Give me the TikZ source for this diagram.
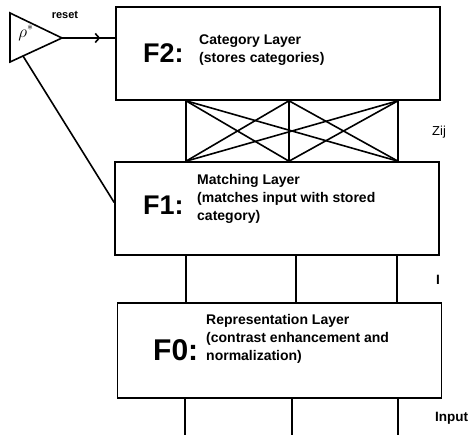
\documentclass[tikz,border=0pt]{standalone}
\usepackage{fontspec}
\setmainfont{Liberation Sans}
\usetikzlibrary{calc,positioning,arrows.meta,decorations.markings}

\tikzset{
  layer/.style={draw, line width=1.6pt, minimum width=324pt, minimum height=93pt, inner sep=0pt},
  tag/.style={font=\bfseries\fontsize{27}{27}\selectfont, inner sep=0pt, anchor=base west},
  desc/.style={font=\bfseries\fontsize{14}{18}\selectfont, align=left, inner sep=0pt, anchor=north west},
  side/.style={font=\bfseries\fontsize{13.5}{14}\selectfont, inner sep=0pt},
  wire/.style={line width=1.6pt}
}

\begin{document}
\begin{tikzpicture}[x=1pt, y=-1pt]
  \useasboundingbox (0,0) rectangle (469,435);

  % the three layers
  \node (f2) [layer] at (278,53.5) {};
  \node (f1) [layer] at (277,208.5) {};
  \node (f0) [layer, minimum height=95pt] at (279.5,350.5) {};

  \node (f2tag) [tag] at (143,63) {F2:};
  \node (f1tag) [tag] at (143,215) {F1:};
  \node (f0tag) [tag, font=\bfseries\fontsize{30}{30}\selectfont] at (153,361) {F0:};

  \node (f2txt) [desc] at (199,34.5) {Category Layer\\(stores categories)};
  \node (f1txt) [desc] at (197,174.5) {Matching Layer\\(matches input with stored\\category)};
  \node (f0txt) [desc] at (206,314.5) {Representation Layer\\(contrast enhancement and\\normalization)};

  % connection points
  \foreach \n/\xa/\xb/\xc in {1/186/186/185, 2/289/296/292, 3/398/397/398}{%
    \coordinate (top\n) at (\xa,0 |- f2.south);
    \coordinate (mid\n) at (\xa,0 |- f1.north);
    \coordinate (low\n) at (\xb,0 |- f1.south);
    \coordinate (rep\n) at (\xb,0 |- f0.north);
    \coordinate (out\n) at (\xc,0 |- f0.south);
    \coordinate (in\n) at (\xc,435);
  }

  % adaptive weights Zij
  \foreach \i in {1,2,3}
    \foreach \j in {1,2,3}
      \draw[wire] (top\i) -- (mid\j);

  \foreach \n in {1,2,3}{%
    \draw[wire] (low\n) -- (rep\n);
    \draw[wire] (out\n) -- (in\n);
  }

  \node (zij) [side, font=\fontsize{13}{14}\selectfont, anchor=west] at (432,132) {Zij};
  \node (ilab) [side] at (438,280) {I};
  \node (input) [side, anchor=west] at (435,418) {Input};

  % reset unit
  \coordinate (rtop) at (10,13);
  \coordinate (rbot) at (10,62);
  \coordinate (rapex) at (62,38);
  \draw[wire] (rtop) -- (rapex) -- (rbot) -- cycle;
  \node (rho) at (26,33) {\fontsize{18}{18}\selectfont$\rho^{*}$};
  \coordinate (rlow) at ($(rbot)!0.25!(rapex)$);

  \draw[wire, postaction={decorate}, decoration={markings,
      mark=at position 0.72 with {\arrow{Straight Barb[length=4pt,width=9pt,line width=1.6pt]}}}]
    (rapex) -- (rapex -| f2.west);
  \node (reset) [side, font=\bfseries\fontsize{11}{11}\selectfont] at (65,15) {reset};

  \draw[wire] (rlow) -- ($(f1.west)+(0,-6)$);
\end{tikzpicture}
\end{document}
